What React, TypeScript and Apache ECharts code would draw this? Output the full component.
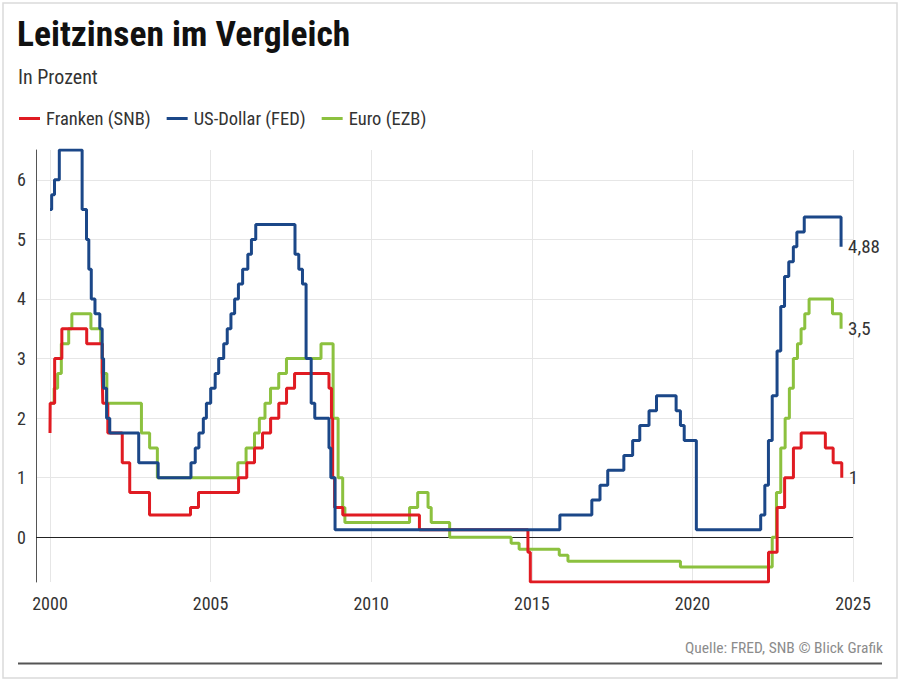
import React, { useEffect, useRef } from "react";
import * as echarts from "echarts";

const FONT = "'Roboto Condensed', 'Roboto', 'Liberation Sans', sans-serif";

const SERIES_NAMES = ["Franken (SNB)", "US-Dollar (FED)", "Euro (EZB)"];
const COLORS = ["#e01b22", "#1b4788", "#8cc13f"];

// [date where the step appears, rate in %]
const FRANKEN: [string, number][] = [
  ["2000-01-01", 1.75], ["2000-01-03", 2.25], ["2000-02-23", 3.0], ["2000-05-15", 3.5],
  ["2001-02-22", 3.25], ["2001-08-17", 2.75], ["2001-08-24", 2.25], ["2001-10-20", 1.75],
  ["2002-04-02", 1.25], ["2002-06-26", 0.75], ["2003-02-06", 0.375], ["2004-05-17", 0.5],
  ["2004-08-16", 0.75], ["2005-11-15", 1.0], ["2006-02-16", 1.25], ["2006-05-15", 1.5],
  ["2006-08-14", 1.75], ["2006-11-14", 2.0], ["2007-02-15", 2.25], ["2007-05-14", 2.5],
  ["2007-08-13", 2.75], ["2008-09-08", 2.5], ["2008-10-06", 2.0], ["2008-10-20", 1.0],
  ["2008-11-11", 0.5], ["2009-02-12", 0.375], ["2011-07-03", 0.125], ["2014-11-18", -0.25],
  ["2014-12-15", -0.75], ["2022-05-16", -0.25], ["2022-08-22", 0.5], ["2022-11-15", 1.0],
  ["2023-02-23", 1.5], ["2023-05-22", 1.75], ["2024-02-21", 1.5], ["2024-05-20", 1.25],
  ["2024-08-26", 1.0],
];

const USDOLLAR: [string, number][] = [
  ["2000-01-01", 5.5], ["2000-01-20", 5.75], ["2000-02-21", 6.0], ["2000-04-16", 6.5],
  ["2001-01-01", 5.5], ["2001-02-20", 5.0], ["2001-03-18", 4.5], ["2001-04-15", 4.0],
  ["2001-05-27", 3.75], ["2001-07-21", 3.5], ["2001-08-17", 3.0], ["2001-09-02", 2.5],
  ["2001-10-06", 2.0], ["2001-11-11", 1.75], ["2002-10-06", 1.25], ["2003-05-15", 1.0],
  ["2004-05-22", 1.25], ["2004-07-10", 1.5], ["2004-08-21", 1.75], ["2004-10-10", 2.0],
  ["2004-11-14", 2.25], ["2005-01-02", 2.5], ["2005-02-22", 2.75], ["2005-04-03", 3.0],
  ["2005-05-30", 3.25], ["2005-07-09", 3.5], ["2005-08-20", 3.75], ["2005-10-01", 4.0],
  ["2005-11-13", 4.25], ["2005-12-31", 4.5], ["2006-02-28", 4.75], ["2006-04-10", 5.0],
  ["2006-05-29", 5.25], ["2007-08-18", 4.75], ["2007-09-30", 4.5], ["2007-11-11", 4.25],
  ["2007-12-22", 3.0], ["2008-02-18", 2.25], ["2008-03-30", 2.0], ["2008-09-08", 1.5],
  ["2008-09-29", 1.0], ["2008-11-16", 0.125], ["2015-11-16", 0.375], ["2016-11-14", 0.625],
  ["2017-02-15", 0.875], ["2017-05-14", 1.125], ["2017-11-13", 1.375], ["2018-02-21", 1.625],
  ["2018-05-13", 1.875], ["2018-08-26", 2.125], ["2018-11-19", 2.375], ["2019-06-30", 2.125],
  ["2019-08-18", 1.875], ["2019-09-30", 1.625], ["2020-02-15", 0.125], ["2022-02-16", 0.375],
  ["2022-04-04", 0.875], ["2022-05-15", 1.625], ["2022-06-27", 2.375], ["2022-08-21", 3.125],
  ["2022-10-02", 3.875], ["2022-11-14", 4.375], ["2023-01-01", 4.625], ["2023-02-22", 4.875],
  ["2023-04-03", 5.125], ["2023-06-26", 5.375], ["2024-08-18", 4.875],
];

const EURO: [string, number][] = [
  ["2000-01-01", 2.25], ["2000-02-17", 2.5], ["2000-03-28", 2.75], ["2000-05-09", 3.25],
  ["2000-08-01", 3.5], ["2000-09-06", 3.75], ["2001-04-11", 3.5], ["2001-07-31", 3.25],
  ["2001-08-18", 2.75], ["2001-10-09", 2.25], ["2002-11-06", 1.75], ["2003-02-07", 1.5],
  ["2003-05-06", 1.0], ["2005-11-06", 1.25], ["2006-02-08", 1.5], ["2006-05-15", 1.75],
  ["2006-07-09", 2.0], ["2006-09-11", 2.25], ["2006-11-13", 2.5], ["2007-02-14", 2.75],
  ["2007-05-13", 3.0], ["2008-06-09", 3.25], ["2008-10-25", 2.0], ["2008-12-21", 1.0],
  ["2009-02-11", 0.5], ["2009-03-08", 0.25], ["2011-03-13", 0.5], ["2011-06-13", 0.75],
  ["2011-10-09", 0.5], ["2011-11-14", 0.25], ["2012-06-11", 0.0], ["2014-05-11", -0.1],
  ["2014-08-10", -0.2], ["2015-11-09", -0.3], ["2016-02-16", -0.4], ["2019-08-18", -0.5],
  ["2022-06-27", 0.0], ["2022-08-14", 0.75], ["2022-10-02", 1.5], ["2022-11-21", 2.0],
  ["2023-01-08", 2.5], ["2023-02-22", 3.0], ["2023-04-10", 3.25], ["2023-05-21", 3.5],
  ["2023-07-02", 3.75], ["2023-08-20", 4.0], ["2024-05-12", 3.75], ["2024-08-18", 3.5],
];

const X_MIN = 1999.564;
const X_MAX = 2025;
const Y_MIN = -0.75;
const Y_MAX = 6.5;

function toYear(s: string): number {
  const t = Date.parse(s + "T00:00:00Z");
  const y = new Date(t).getUTCFullYear();
  const a = Date.UTC(y, 0, 1);
  const b = Date.UTC(y + 1, 0, 1);
  return y + (t - a) / (b - a);
}

function fmtRate(v: number): string {
  return String(parseFloat(v.toFixed(2))).replace(".", ",");
}

export default function App() {
  const ref = useRef<HTMLDivElement>(null);

  useEffect(() => {
    if (!ref.current) return;
    const chart = echarts.init(ref.current, undefined, { renderer: "svg" });
    const raw = [FRANKEN, USDOLLAR, EURO];
    const zs = [3, 4, 2];
    const series: any[] = raw.map((arr, i) => ({
      name: SERIES_NAMES[i],
      type: "line",
      step: "end",
      data: arr.map(([d, v]) => [toYear(d), v]),
      symbol: "none",
      showSymbol: false,
      silent: true,
      z: zs[i],
      lineStyle: { color: COLORS[i], width: 3 },
      itemStyle: { color: COLORS[i] },
      emphasis: { disabled: true },
      endLabel: {
        show: true,
        formatter: (p: any) => fmtRate(p.value[1]),
        color: "#333",
        fontSize: 19,
        fontFamily: FONT,
        distance: 7,
      },
    }));
    series[2].markLine = {
      silent: true,
      symbol: ["none", "none"],
      label: { show: false },
      lineStyle: { color: "#222", width: 1, type: "solid" },
      data: [{ yAxis: 0 }],
      z: 1,
    };

    chart.setOption({
      animation: false,
      backgroundColor: "#fff",
      textStyle: { fontFamily: FONT },
      grid: { left: 36, right: 47, top: 150, bottom: 103, containLabel: false },
      legend: {
        left: 19,
        top: 109,
        padding: 0,
        icon: "rect",
        itemWidth: 21,
        itemHeight: 3,
        itemGap: 16,
        selectedMode: false,
        data: SERIES_NAMES,
        textStyle: { fontSize: 18.5, color: "#333", fontFamily: FONT, padding: [0, 0, 0, 1] },
      },
      xAxis: {
        type: "value",
        min: X_MIN,
        max: X_MAX,
        splitNumber: 5,
        minInterval: 5,
        maxInterval: 5,
        axisLine: { show: false },
        axisTick: { show: false },
        axisLabel: {
          color: "#333",
          fontSize: 18,
          margin: 12,
          fontFamily: FONT,
          formatter: (v: number) =>
            Math.abs(v - Math.round(v)) < 1e-6 && Math.round(v) % 5 === 0 ? String(Math.round(v)) : "",
        },
        splitLine: { show: true, showMinLine: false, lineStyle: { color: "#e6e6e6", width: 1 } },
      },
      yAxis: {
        type: "value",
        min: Y_MIN,
        max: Y_MAX,
        splitNumber: 7,
        minInterval: 1,
        maxInterval: 1,
        axisLine: { show: true, lineStyle: { color: "#555", width: 1 } },
        axisTick: { show: false },
        axisLabel: {
          color: "#333",
          fontSize: 18,
          margin: 10,
          fontFamily: FONT,
          formatter: (v: number) => (Math.abs(v - Math.round(v)) < 1e-6 ? String(Math.round(v)) : ""),
        },
        splitLine: {
          show: true,
          showMinLine: false,
          showMaxLine: false,
          lineStyle: { color: "#e6e6e6", width: 1 },
        },
      },
      series,
      graphic: [
        {
          type: "rect",
          silent: true,
          z: -10,
          shape: { x: 3, y: 3, width: 894, height: 675 },
          style: { fill: "none", stroke: "#dadada", lineWidth: 1.5 },
        },
        {
          type: "text",
          x: 17,
          y: 34,
          style: {
            text: "Leitzinsen im Vergleich",
            font: `bold 35.5px ${FONT}`,
            fill: "#111",
            align: "left",
            verticalAlign: "middle",
          },
        },
        {
          type: "text",
          x: 18,
          y: 77,
          style: {
            text: "In Prozent",
            font: `20px ${FONT}`,
            fill: "#333",
            align: "left",
            verticalAlign: "middle",
          },
        },
        {
          type: "text",
          x: 883,
          y: 648,
          style: {
            text: "Quelle: FRED, SNB © Blick Grafik",
            font: `15.5px ${FONT}`,
            fill: "#8c8c8c",
            align: "right",
            verticalAlign: "middle",
          },
        },
        {
          type: "line",
          silent: true,
          shape: { x1: 18, y1: 663.5, x2: 882, y2: 663.5 },
          style: { stroke: "#555", lineWidth: 2 },
        },
      ],
    });
    return () => chart.dispose();
  }, []);

  return (
    <div
      ref={ref}
      style={{ position: "absolute", left: 0, top: 0, width: 900, height: 685, background: "#fff" }}
    />
  );
}
